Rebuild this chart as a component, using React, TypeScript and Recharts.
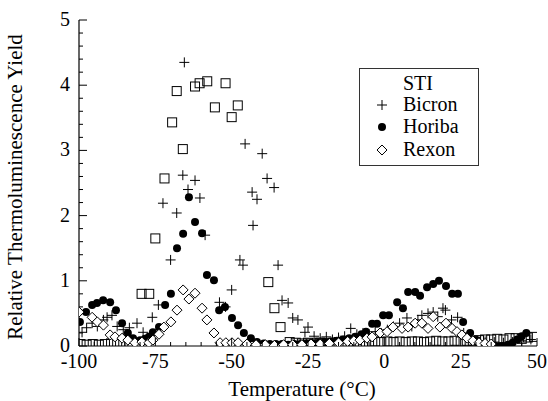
import React from 'react';
import { ScatterChart, Scatter, XAxis, YAxis } from 'recharts';

const FONT = '"Liberation Serif", "Times New Roman", Times, serif';

// axis ticks (minor every 5 degC / 0.2, labelled every 25 degC / 1)
const xTicks = [
  -100, -95, -90, -85, -80, -75, -70, -65, -60, -55,
  -50, -45, -40, -35, -30, -25, -20, -15, -10, -5,
  0, 5, 10, 15, 20, 25, 30, 35, 40, 45, 50,
];
const yTicks = [
  0, 0.2, 0.4, 0.6, 0.8, 1, 1.2, 1.4, 1.6, 1.8,
  2, 2.2, 2.4, 2.6, 2.8, 3, 3.2, 3.4, 3.6, 3.8,
  4, 4.2, 4.4, 4.6, 4.8, 5,
];

const legendLabels = ['STI', 'Bicron', 'Horiba', 'Rexon'];

// STI (open squares)
const stiTemp = [
  -99.5, -97.5, -95.5, -93.5, -91.5, -89.5, -87.5, -85.5, -83.5, -79.5,
  -77, -75, -72, -69.5, -68, -66, -62, -60.5, -58, -55.5,
  -52, -50, -48, -38, -36, -34, -31, -29, -27, -25,
  -23, -21, -19, -17, -15, -13, -11, -9, -7, -5,
  -3, -1, 1, 3, 5, 7, 9, 11, 13, 15,
  17, 19, 21, 23, 25, 27, 29, 31, 33, 35,
  37, 39, 41, 43, 45, 47, 49,
];
const stiYield = [
  0.03, 0.02, 0.03, 0.02, 0.03, 0.04, 0.03, 0.04, 0.05, 0.8,
  0.8, 1.65, 2.57, 3.43, 3.91, 3.02, 3.98, 4.03, 4.06, 3.66,
  4.03, 3.51, 3.69, 0.98, 0.58, 0.29, 0.06, 0.05, 0.04, 0.05,
  0.04, 0.05, 0.04, 0.05, 0.05, 0.06, 0.05, 0.06, 0.05, 0.06,
  0.07, 0.06, 0.07, 0.06, 0.07, 0.06, 0.07, 0.07, 0.06, 0.07,
  0.08, 0.07, 0.07, 0.08, 0.07, 0.08, 0.08, 0.09, 0.1, 0.1,
  0.11, 0.1, 0.12, 0.12, 0.11, 0.13, 0.14,
];

// Bicron (plus)
const bicronTemp = [
  -99, -97.5, -95.7, -94, -92, -90.8, -89.2, -87.5, -85.5, -83.5,
  -81, -79, -76, -74, -72.5, -70, -68, -66, -65.5, -64.3,
  -62, -60.4, -58.7, -54, -52, -50, -47.3, -46.3, -45.6, -43.3,
  -43, -41.7, -40, -38.4, -36.1, -34.8, -33.5, -31.5, -30, -28.3,
  -26, -25, -23, -21, -19, -17, -15, -13, -11, -9,
  -7, -5, -3, -1, 1, 3, 5, 7.4, 9, 11,
  12.3, 14.3, 16, 17.5, 19.2, 20, 22, 24, 26, 28,
  30, 33, 36, 39, 42, 45, 48,
];
const bicronYield = [
  0.21, 0.28, 0.35, 0.3, 0.4, 0.44, 0.47, 0.3, 0.25, 0.28,
  0.35, 0.21, 0.44, 0.63, 2.19, 1.32, 2.04, 2.62, 4.35, 2.4,
  2.54, 2.27, 1.7, 0.67, 0.6, 0.86, 1.32, 1.24, 3.1, 2.36,
  1.85, 2.25, 2.95, 2.57, 2.43, 1.24, 0.7, 0.66, 0.43, 0.4,
  0.21, 0.29, 0.15, 0.12, 0.14, 0.1, 0.13, 0.15, 0.27, 0.18,
  0.2, 0.18, 0.22, 0.2, 0.25, 0.3, 0.35, 0.43, 0.3, 0.4,
  0.47, 0.5, 0.52, 0.45, 0.58, 0.55, 0.4, 0.44, 0.2, 0.12,
  0.08, 0.07, 0.06, 0.05, 0.06, 0.08, 0.1,
];

// Horiba (filled circles)
const horibaTemp = [
  -99.7, -97.7, -95.7, -94.1, -92.1, -89.8, -87.9, -85.9, -84, -82.3,
  -80, -78.4, -77.1, -75.8, -73.8, -71.8, -69.9, -67.9, -65.9, -64,
  -62, -59.7, -58.1, -55.8, -54.1, -52.2, -49.9, -47.9, -46, -43.7,
  -41.7, -39.5, -37.5, -35.5, -33.5, -31.5, -29.5, -27.5, -25.5, -23.5,
  -21.5, -19.5, -17.5, -15.5, -13.5, -11.5, -9.5, -7.5, -6, -4,
  -2.4, -0.4, 1.5, 4.2, 6.1, 7.8, 10.1, 11.7, 14, 16,
  17.9, 20.2, 22.2, 24.1, 25.8, 28.1, 30.4, 32.5, 34.5, 36.5,
  38.5, 40.5, 42, 43.5, 45, 46.5,
];
const horibaYield = [
  0.37, 0.52, 0.63, 0.66, 0.7, 0.67, 0.55, 0.35, 0.2, 0.12,
  0.09, 0.11, 0.14, 0.21, 0.29, 0.63, 0.8, 1.5, 1.72, 2.28,
  1.9, 1.73, 1.09, 1.01, 0.55, 0.6, 0.43, 0.32, 0.2, 0.12,
  0.06, 0.04, 0.03, 0.03, 0.03, 0.02, 0.03, 0.03, 0.04, 0.04,
  0.05, 0.06, 0.07, 0.08, 0.1, 0.12, 0.14, 0.18, 0.22, 0.34,
  0.34, 0.47, 0.47, 0.67, 0.58, 0.83, 0.83, 0.77, 0.9, 0.95,
  1.0, 0.92, 0.8, 0.8, 0.37, 0.2, 0.09, 0.03, 0.01, 0.0,
  0.0, 0.02, 0.05, 0.1, 0.15, 0.2,
];

// Rexon (open diamonds)
const rexonTemp = [
  -100, -95.7, -94, -92, -89.8, -88.2, -85.9, -84, -81.7, -79.4,
  -77.1, -75.8, -73.8, -72.2, -69.9, -67.9, -65.9, -64, -62, -59.7,
  -58.1, -55.8, -53.8, -51.9, -49.9, -47.9, -45, -42, -39, -36,
  -33, -30, -27, -24, -21, -18, -15, -12, -10, -8,
  -5.7, -4, -1.4, 0.9, 2.8, 5.8, 7.8, 10.1, 12.3, 14.3,
  16, 18.2, 20.2, 22.2, 23.8, 25.4, 27.1, 29, 31, 33,
  35,
];
const rexonYield = [
  0.52, 0.44, 0.37, 0.32, 0.17, 0.14, 0.12, 0.09, 0.05, 0.06,
  0.05, 0.09, 0.18, 0.29, 0.37, 0.55, 0.86, 0.72, 0.81, 0.58,
  0.4, 0.2, 0.05, 0.05, 0.05, 0.05, 0.03, 0.02, 0.02, 0.01,
  0.02, 0.02, 0.02, 0.03, 0.03, 0.04, 0.05, 0.07, 0.08, 0.09,
  0.12, 0.14, 0.2, 0.22, 0.29, 0.27, 0.29, 0.35, 0.35, 0.27,
  0.45, 0.29, 0.35, 0.27, 0.22, 0.17, 0.12, 0.08, 0.05, 0.04,
  0.03,
];

const toPoints = (temps: number[], vals: number[]) =>
  temps.map((temp, i) => ({ temp, tl: vals[i] }));

const isMajorX = (v: number) => v % 25 === 0;
const isMajorY = (v: number) => Math.abs(v - Math.round(v)) < 1e-6;

const BottomTick = ({ x, y, payload }: any) => {
  const major = isMajorX(payload.value);
  return (
    <g>
      <line x1={x} y1={y} x2={x} y2={y - (major ? 8 : 4)} stroke="#000" />
      {major && (
        <text x={x} y={y + 22} textAnchor="middle" fontSize={20} fontFamily={FONT} fill="#000">
          {payload.value}
        </text>
      )}
    </g>
  );
};

const TopTick = ({ x, y, payload }: any) => {
  const major = isMajorX(payload.value);
  return <line x1={x} y1={y} x2={x} y2={y + (major ? 8 : 4)} stroke="#000" />;
};

const LeftTick = ({ x, y, payload }: any) => {
  const major = isMajorY(payload.value);
  return (
    <g>
      <line x1={x} y1={y} x2={x + (major ? 8 : 4)} y2={y} stroke="#000" />
      {major && (
        <text x={x - 9} y={y + 6} textAnchor="end" fontSize={20} fontFamily={FONT} fill="#000">
          {Math.round(payload.value)}
        </text>
      )}
    </g>
  );
};

const RightTick = ({ x, y, payload }: any) => {
  const major = isMajorY(payload.value);
  return <line x1={x} y1={y} x2={x - (major ? 8 : 4)} y2={y} stroke="#000" />;
};

const SquareMark = (p: any) => (
  <rect x={p.cx - 4.5} y={p.cy - 4.5} width={9} height={9} fill="none" stroke="#000" strokeWidth={1} />
);
const PlusMark = (p: any) => (
  <g stroke="#000" strokeWidth={1}>
    <line x1={p.cx - 5} y1={p.cy} x2={p.cx + 5} y2={p.cy} />
    <line x1={p.cx} y1={p.cy - 5} x2={p.cx} y2={p.cy + 5} />
  </g>
);
const CircleMark = (p: any) => <circle cx={p.cx} cy={p.cy} r={4} fill="#000" />;
const DiamondMark = (p: any) => (
  <polygon
    points={`${p.cx},${p.cy - 5} ${p.cx + 5},${p.cy} ${p.cx},${p.cy + 5} ${p.cx - 5},${p.cy}`}
    fill="#fff"
    stroke="#000"
    strokeWidth={1}
  />
);

export default function App() {
  const axisLine = { stroke: '#000', strokeWidth: 1.2 };
  return (
    <div style={{ position: 'absolute', left: 0, top: 0, width: 548, height: 401, background: '#fff' }}>
      <ScatterChart width={548} height={401} margin={{ top: 20, right: 11, bottom: 0, left: 0 }}>
        <XAxis
          dataKey="temp"
          type="number"
          domain={[-100, 50]}
          allowDataOverflow
          ticks={xTicks}
          interval={0}
          height={55}
          tickSize={0}
          tickMargin={0}
          tickLine={false}
          axisLine={axisLine}
          tick={<BottomTick />}
        />
        <XAxis
          xAxisId="top"
          orientation="top"
          type="number"
          domain={[-100, 50]}
          allowDataOverflow
          ticks={xTicks}
          interval={0}
          height={0}
          tickSize={0}
          tickMargin={0}
          tickLine={false}
          axisLine={axisLine}
          tick={<TopTick />}
        />
        <YAxis
          dataKey="tl"
          type="number"
          domain={[0, 5]}
          allowDataOverflow
          ticks={yTicks}
          interval={0}
          width={79}
          tickSize={0}
          tickMargin={0}
          tickLine={false}
          axisLine={axisLine}
          tick={<LeftTick />}
        />
        <YAxis
          yAxisId="right"
          orientation="right"
          type="number"
          domain={[0, 5]}
          allowDataOverflow
          ticks={yTicks}
          interval={0}
          width={0}
          tickSize={0}
          tickMargin={0}
          tickLine={false}
          axisLine={axisLine}
          tick={<RightTick />}
        />
        <Scatter name="STI" data={toPoints(stiTemp, stiYield)} shape={SquareMark} isAnimationActive={false} />
        <Scatter name="Bicron" data={toPoints(bicronTemp, bicronYield)} shape={PlusMark} isAnimationActive={false} />
        <Scatter name="Horiba" data={toPoints(horibaTemp, horibaYield)} shape={CircleMark} isAnimationActive={false} />
        <Scatter name="Rexon" data={toPoints(rexonTemp, rexonYield)} shape={DiamondMark} isAnimationActive={false} />
      </ScatterChart>

      <svg
        width={548}
        height={401}
        style={{ position: 'absolute', left: 0, top: 0, pointerEvents: 'none' }}
        fontFamily={FONT}
      >
        <text x={22} y={187} transform="rotate(-90 22 187)" textAnchor="middle" fontSize={21} fill="#000">
          Relative Thermoluminescence Yield
        </text>
        <text x={302} y={396} textAnchor="middle" fontSize={21} fill="#000">
          Temperature (°C)
        </text>

        <rect x={359.5} y={68.5} width={119} height={97} fill="#fff" stroke="#333" strokeWidth={1} />
        <text x={403} y={90} fontSize={20} fill="#000">{legendLabels[0]}</text>
        <PlusMark cx={382} cy={105} />
        <text x={403} y={111} fontSize={20} fill="#000">{legendLabels[1]}</text>
        <CircleMark cx={382} cy={127} />
        <text x={403} y={133} fontSize={20} fill="#000">{legendLabels[2]}</text>
        <DiamondMark cx={382} cy={150} />
        <text x={403} y={156} fontSize={20} fill="#000">{legendLabels[3]}</text>
      </svg>
    </div>
  );
}
